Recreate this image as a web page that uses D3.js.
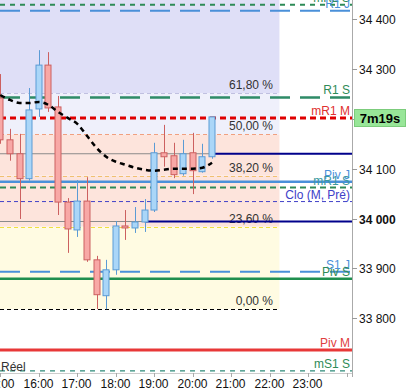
<!DOCTYPE html>
<html><head><meta charset="utf-8">
<script src="https://cdn.jsdelivr.net/npm/d3@7"></script>
<style>
html,body{margin:0;padding:0;background:#fff;}
svg{display:block;font-family:"Liberation Sans",Arial,sans-serif;}
</style></head>
<body><svg id="c" width="407" height="391"></svg>
<script>
// ---- data ----
const candleTimes = ["15:00","15:15","15:30","15:45","16:00","16:15","16:30","16:45","17:00","17:15","17:30","17:45","18:00","18:15","18:30","18:45","19:00","19:15","19:30","19:45","20:00","20:15","20:30"];
const opens  = [34242,34158,34130,34080,34220,34308,34224,34033,33977,34035,33917,33845,33897,33985,33981,33993,34017,34132,34126,34090,34132,34094,34124];
const highs  = [34290,34180,34170,34262,34338,34334,34246,34041,34077,34083,33925,33917,33995,34017,34023,34039,34152,34188,34152,34158,34172,34150,34204];
const lows   = [34150,34116,33999,34076,34204,34214,34007,33931,33963,33913,33818,33818,33887,33957,33971,33973,34013,34104,34081,34086,34049,34092,34120];
const closes = [34158,34130,34080,34218,34308,34222,34033,33979,34035,33917,33847,33897,33985,33981,33993,34017,34132,34124,34088,34130,34096,34124,34204];
const maValues = [34248,34238,34232,34232,34234,34228,34214,34202,34190,34166,34142,34124,34114,34108,34102,34098,34096,34098,34100,34100,34100,34102,34112];

const levelLabels = ["mR2 S","R1 J","R1 S","mR1 M","Piv J","mR1 S","Clo (M, Pré)","S1 J","Piv S","Piv M","mS1 S"];
const levelPrices = [34429,34417,34243,34202,34074,34062,34034,33893,33879,33736,33694];

const anchorPrices = [34130,33994];
const anchorTimes = ["20:30","18:45"];

const fibLow = 33818, fibHigh = 34520;
const fibRatios = [0, 23.6, 38.2, 50, 61.8];
const fibLabels = ["0,00 %","23,60 %","38,20 %","50,00 %","61,80 %"];
const fibEnd = "22:15";

const yTicks = [33800,33900,34000,34100,34200,34300,34400];
const timerLabel = "7m19s";
const realLabel = "Réel";

// ---- styles (kept separate) ----
const levelStyles = [
  {c:"#2e8b57",w:2,d:"5,5"},
  {c:"#4a90d9",w:2,d:"20,10"},
  {c:"#2e8b67",w:2.5,d:"20,10"},
  {c:"#e00000",w:3,d:"6,4"},
  {c:"#4a90d9",w:2.5,d:null},
  {c:"#2e8b57",w:2,d:"6,4"},
  {c:"#4040c8",w:1,d:"4,3"},
  {c:"#4a90d9",w:2,d:"20,10"},
  {c:"#1f8f4f",w:2.5,d:null},
  {c:"#e83838",w:3,d:null},
  {c:"#2e8b7a",w:1.3,d:"5,5"}
];
const levelTextColors = ["#2e8b57","#4a90d9","#2e8b57","#e03030","#4a90d9","#3a9aa0","#4040c8","#4a90d9","#2e8b57","#e04040","#2e8b57"];
const fibLineColors = ["#000000","#f0e040","#f0c070","#f0a080","#c0c0e0"];
const zoneColors = ["#fffbe2","#fde4dc","#fde4dc","#eff0fb","#dfdff7"];

// ---- scales ----
const W = 407, H = 391, PR = 352, PB = 373;
const parse = s => { const [h,m] = s.split(":").map(Number); return new Date(2020,0,1,h,m); };
const x = d3.scaleTime().domain([parse("15:00"), new Date(2020,0,1,24,8,6)]).range([0.3, PR]);
const y = d3.scaleLinear().domain([33689.8, 34438.7]).range([PB, 0]);

const svg = d3.select("#c");
svg.append("defs").append("clipPath").attr("id","clip").append("rect").attr("x",0).attr("y",0).attr("width",PR).attr("height",PB);
const g = svg.append("g").attr("clip-path","url(#clip)");

// fib zones
const fibPrice = r => fibLow + (fibHigh - fibLow) * r / 100;
const xFibEnd = x(parse(fibEnd));
const zoneBounds = fibRatios.concat([100]);
for (let i = 0; i < fibRatios.length; i++) {
  const top = y(fibPrice(zoneBounds[i+1])), bot = y(fibPrice(zoneBounds[i]));
  g.append("rect").attr("x",0).attr("width",xFibEnd).attr("y",top).attr("height",bot-top).attr("fill",zoneColors[i]);
}
fibRatios.forEach((r,i) => {
  const yy = Math.round(y(fibPrice(r))) + 0.5;
  g.append("line").attr("x1",0).attr("x2",xFibEnd).attr("y1",yy).attr("y2",yy)
    .attr("stroke",fibLineColors[i]).attr("stroke-width",1).attr("stroke-dasharray","4,3");
  g.append("text").attr("x",273).attr("y",yy-5).attr("text-anchor","end")
    .attr("font-size",12).attr("fill","#333").text(fibLabels[i]);
});

// anchored lines (gray to left, navy to right)
anchorPrices.forEach((p,i) => {
  const yy = y(p), xs = x(parse(anchorTimes[i]));
  g.append("line").attr("x1",0).attr("x2",xs).attr("y1",yy).attr("y2",yy).attr("stroke","#8a8a8a").attr("stroke-width",1);
  g.append("line").attr("x1",xs).attr("x2",PR).attr("y1",yy).attr("y2",yy).attr("stroke","#00008b").attr("stroke-width",2);
});

// level lines
levelPrices.forEach((p,i) => {
  const s = levelStyles[i], yy = y(p);
  const ln = g.append("line").attr("x1",0).attr("x2",PR).attr("y1",yy).attr("y2",yy)
    .attr("stroke",s.c).attr("stroke-width",s.w);
  if (s.d) ln.attr("stroke-dasharray",s.d);
});

// candles
const cw = 7;
candleTimes.forEach((t,i) => {
  const cx = Math.round(x(parse(t))) + 0.5;
  const up = closes[i] >= opens[i];
  const stroke = up ? "#5b9bd5" : "#cc6060";
  const fill = up ? "#aad6f8" : "#f8a8a6";
  g.append("line").attr("x1",cx).attr("x2",cx).attr("y1",y(highs[i])).attr("y2",y(lows[i])).attr("stroke",stroke).attr("stroke-width",1);
  const top = y(Math.max(opens[i],closes[i])), bot = y(Math.min(opens[i],closes[i]));
  g.append("rect").attr("x",cx-cw/2).attr("width",cw-1).attr("y",top).attr("height",Math.max(1,bot-top))
    .attr("fill",fill).attr("stroke",stroke).attr("stroke-width",1);
});

// moving average
const ma = d3.line().x((d,i)=>x(parse(candleTimes[i]))).y(d=>y(d)).curve(d3.curveMonotoneX);
g.append("path").datum(maValues).attr("d",ma).attr("fill","none").attr("stroke","#000").attr("stroke-width",2.5).attr("stroke-dasharray","5,4");

// level labels
levelPrices.forEach((p,i) => {
  g.append("text").attr("x",350).attr("y",y(p)-3).attr("text-anchor","end")
    .attr("font-size",12).attr("fill",levelTextColors[i]).text(levelLabels[i]);
});
g.append("text").attr("x",1).attr("y",371).attr("font-size",12).attr("fill","#333").text(realLabel);

// axes
svg.append("line").attr("x1",PR+0.5).attr("x2",PR+0.5).attr("y1",0).attr("y2",PB+4).attr("stroke","#aaa");
svg.append("line").attr("x1",0).attr("x2",PR).attr("y1",PB+0.5).attr("y2",PB+0.5).attr("stroke","#ccc");
const timerPrice = levelPrices[3];
const yAxis = svg.append("g");
yTicks.forEach(v => {
  const yy = Math.round(y(v)) + 0.5;
  yAxis.append("line").attr("x1",PR).attr("x2",PR+5).attr("y1",yy).attr("y2",yy).attr("stroke","#999");
  // the timer badge covers the tick label nearest to it
  if (Math.abs(y(v) - y(timerPrice)) < 10) return;
  yAxis.append("text").attr("x",359).attr("y",yy).attr("dy","0.35em").attr("font-size",12)
    .attr("font-weight", v === 34000 ? "bold" : "normal").attr("fill","#111")
    .text(d3.format(",")(v).replace(",", " "));
});
const xt = d3.timeHour.range(parse("15:00"), new Date(2020,0,1,24,1));
xt.forEach(t => {
  const xx = Math.round(x(t)) + 0.5;
  svg.append("line").attr("x1",xx).attr("x2",xx).attr("y1",PB).attr("y2",PB+4).attr("stroke","#aaa");
  if (t.getDate() === 1)
    svg.append("text").attr("x",xx-1).attr("y",388).attr("text-anchor","middle").attr("font-size",12).attr("fill","#111").text(d3.timeFormat("%H:%M")(t));
});

// timer box
const ty = Math.round(y(timerPrice));
svg.append("rect").attr("x",354.5).attr("y",ty-8.5).attr("width",51).attr("height",17).attr("fill","#98e698").attr("stroke","#7ccc7c");
svg.append("text").attr("x",380).attr("y",ty).attr("dy","0.36em").attr("text-anchor","middle").attr("font-size",13).attr("font-weight","bold").attr("fill","#000").text(timerLabel);
</script></body></html>
